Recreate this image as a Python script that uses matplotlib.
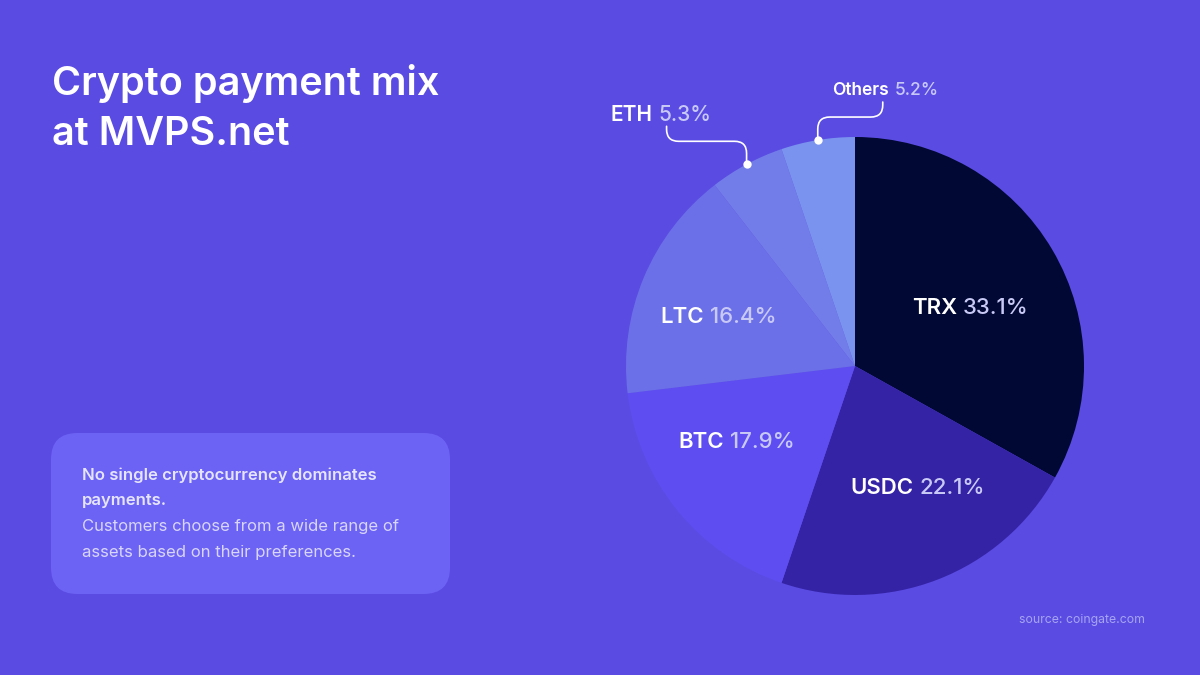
import matplotlib
matplotlib.use("Agg")
import matplotlib.pyplot as plt
from matplotlib.patches import FancyBboxPatch, PathPatch
from matplotlib.path import Path
import numpy as np

plt.rcParams['font.family'] = ['Inter', 'DejaVu Sans']

# data
coins = ['TRX', 'USDC', 'BTC', 'LTC', 'ETH', 'Others']
shares = [33.1, 22.1, 17.9, 16.4, 5.3, 5.2]
colors = ['#000833', '#3523A6', '#5E4EF1', '#6C70E8', '#737DE9', '#7A93EE']

BG = '#5A4BE3'
R_PX = 229.0  # pie radius in pixels

# label split points (name right / value left), in pie units
label_pos = [(0.459, 0.253), (0.269, -0.533), (-0.559, -0.332),
             (-0.648, 0.214), (-0.873, 1.096), (0.159, 1.205)]
label_size = [16, 16, 16, 16, 15, 12.5]

fig = plt.figure(figsize=(12, 6.75), dpi=100, facecolor=BG)

# pie axes: 600x600 px square centred at (855, 366)
ax = fig.add_axes([(855 - 300) / 1200, (675 - 366 - 300) / 675, 600 / 1200, 600 / 675])
ax.set_facecolor('none')

wedges, _ = ax.pie(shares, colors=colors, startangle=90, counterclock=False,
                   radius=1, wedgeprops=dict(linewidth=0))
lim = 300 / R_PX
ax.set_xlim(-lim, lim)
ax.set_ylim(-lim, lim)
ax.axis('off')

for i, (name, val) in enumerate(zip(coins, shares)):
    x, y = label_pos[i]
    g = 3 / R_PX
    ax.text(x - g, y, name, ha='right', va='center', color='white',
            fontsize=label_size[i], fontweight='semibold')
    ax.text(x + g, y, f'{val}%', ha='left', va='center', color='#C9C9F6',
            fontsize=label_size[i], fontweight='medium')

# connectors for the small slices
def px(v):
    return v / R_PX

def connector(w, dx_end, up1, up2):
    th = np.deg2rad((w.theta1 + w.theta2) / 2)
    x0, y0 = np.cos(th), np.sin(th)
    s = np.sign(dx_end)
    r = px(12)
    yh = y0 + px(up1)
    x1 = x0 + dx_end
    verts = [(x0, y0), (x0, yh - r), (x0, yh), (x0 + s * r, yh),
             (x1 - s * r, yh), (x1, yh), (x1, yh + r), (x1, yh + px(up2))]
    codes = [Path.MOVETO, Path.LINETO, Path.CURVE3, Path.CURVE3,
             Path.LINETO, Path.CURVE3, Path.CURVE3, Path.LINETO]
    ax.add_patch(PathPatch(Path(verts, codes), fill=False, edgecolor='white',
                           lw=1.2, capstyle='round', zorder=4))
    ax.plot([x0], [y0], 'o', color='white', ms=6, zorder=5, mec='none')

connector(wedges[4], px(-80), 23, 15)
connector(wedges[5], px(65), 23, 15)

# title
fig.text(52 / 1200, 1 - 95 / 675, 'Crypto payment mix', ha='left',
         va='baseline', color='white', fontsize=28.5, fontweight='semibold')
fig.text(52 / 1200, 1 - 145 / 675, 'at MVPS.net', ha='left',
         va='baseline', color='white', fontsize=28.5, fontweight='semibold')

# info card
card = FancyBboxPatch((51 / 1200, 1 - 594 / 675), 399 / 1200, 161 / 675,
                      boxstyle='round,pad=0,rounding_size=0.022',
                      transform=fig.transFigure, facecolor='#6C62F3',
                      edgecolor='none', mutation_aspect=1200 / 675)
fig.patches.append(card)
fig.text(82 / 1200, 1 - 475 / 675, 'No single cryptocurrency dominates',
         ha='left', va='center', color='#E6E5FF', fontsize=12, fontweight='semibold')
fig.text(82 / 1200, 1 - 500 / 675, 'payments.',
         ha='left', va='center', color='#E6E5FF', fontsize=12, fontweight='semibold')
fig.text(82 / 1200, 1 - 526 / 675, 'Customers choose from a wide range of',
         ha='left', va='center', color='#D8D6FA', fontsize=12)
fig.text(82 / 1200, 1 - 552 / 675, 'assets based on their preferences.',
         ha='left', va='center', color='#D8D6FA', fontsize=12)

fig.text(1145 / 1200, 1 - 620 / 675, 'source: coingate.com', ha='right',
         va='center', color='#A7A4F1', fontsize=8.8)

fig.savefig('out.png', dpi=100, facecolor=BG)
